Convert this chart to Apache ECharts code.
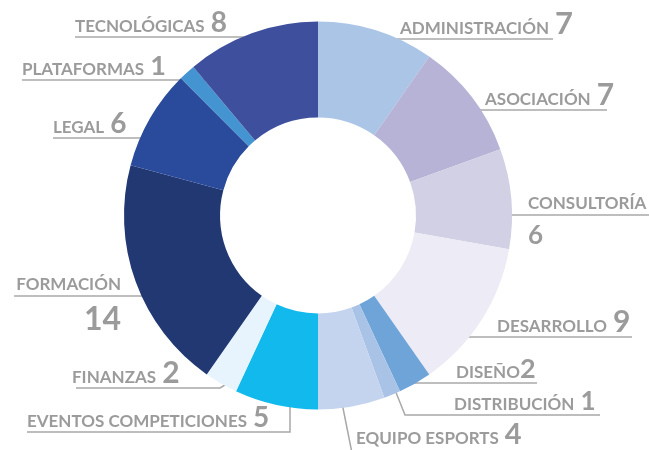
<!DOCTYPE html>
<html><head><meta charset="utf-8">
<script src="https://cdn.jsdelivr.net/npm/echarts@6/dist/echarts.min.js"></script>
<style>html,body{margin:0;padding:0;background:#fff}#c{width:649px;height:450px}</style>
</head><body><div id="c"></div>
<script>
const categories = ['ADMINISTRACIÓN','ASOCIACIÓN','CONSULTORÍA','DESARROLLO','DISEÑO','DISTRIBUCIÓN','EQUIPO ESPORTS','EVENTOS COMPETICIONES','FINANZAS','FORMACIÓN','LEGAL','PLATAFORMAS','TECNOLÓGICAS'];
const values = [7,7,6,9,2,1,4,5,2,14,6,1,8];
const colors = ['#abc5e7','#b6b3d6','#d1d0e4','#ecebf6','#6fa4d9','#a9c3e6','#c4d4ef','#11b9ec','#e8f4fd','#213873','#2a4a9b','#4594d2','#3e4f9d'];
// label placement (annotation layout only)
const guides = [
 {tx:400, ly:39, align:'left', fs:31, pts:[[382,39],[382,39],[553,39]]},
 {tx:485, ly:110, align:'left', fs:30, pts:[[460,110],[460,110],[607,110]]},
 {tx:528, ly:215, align:'left', fs:26, stack:true, pts:[[507,215],[507,215],[649,215]]},
 {tx:497, ly:337, align:'left', fs:30, pts:[[465,337],[465,337],[632,337]]},
 {tx:456, ly:383, align:'left', fs:27, nospace:true, pts:[[405,383],[405,383],[537,383]]},
 {tx:454, ly:415, align:'left', fs:26, pts:[[395,390],[405,415],[600,415]]},
 {tx:356, ly:449, align:'left', fs:29, pts:[[342,403],[352,453],[530,453]]},
 {tx:27, ly:432, align:'left', fs:28, pts:[[290,400],[290,432],[27,432]]},
 {tx:72, ly:388, align:'left', fs:30, pts:[[230,382],[220,388],[76,388]]},
 {tx:121, ly:296, align:'right', fs:32, stack:true, pts:[[197,296],[197,296],[14,296]]},
 {tx:53, ly:138, align:'left', fs:28, pts:[[167,138],[167,138],[53,138]]},
 {tx:22, ly:80, align:'left', fs:27, pts:[[205,80],[205,80],[22,80]]},
 {tx:75, ly:37, align:'left', fs:28, pts:[[258,37],[258,37],[75,37]]}
];
const TXT = '#9b9b9b';
const rich = {
  n: {fontFamily:'Lato', fontWeight:'bold', fontSize:17, lineHeight:17, color:TXT, verticalAlign:'bottom', padding:[0,0,2,0]}
};
guides.forEach((g, i) => {
  rich['v' + i] = {fontFamily:'Lato', fontWeight:'bold', fontSize:g.fs, lineHeight:g.fs, color:TXT, verticalAlign:'bottom', padding:[0,0,0,g.nospace ? 0 : 3]};
  rich['sv' + i] = {fontFamily:'Lato', fontWeight:'bold', fontSize:g.fs, lineHeight:g.fs, color:TXT, padding:[20,0,0,0]};
});
rich.sn = {fontFamily:'Lato', fontWeight:'bold', fontSize:17, lineHeight:17, color:TXT, padding:[0,0,2,0]};
const data = categories.map((c, i) => {
  const g = guides[i];
  const f = g.stack ? '{sn|' + c + '}\n{sv' + i + '|' + values[i] + '}'
                    : '{n|' + c + '}' + (g.nospace ? '' : ' ') + '{v' + i + '|' + values[i] + '}';
  return {name: c, value: values[i], itemStyle: {color: colors[i]}, label: {formatter: f}};
});
const chart = echarts.init(document.getElementById('c'), null, {renderer:'canvas'});
chart.setOption({
  animation: false,
  series: [{
    type: 'pie',
    center: [318, 215.5],
    radius: [98, 194],
    startAngle: 90,
    clockwise: true,
    avoidLabelOverlap: false,
    emphasis: {disabled: true},
    itemStyle: {borderWidth: 0},
    label: {show: true, position: 'outside', color: TXT, fontFamily: 'Lato', rich: rich},
    labelLine: {show: true, length: 10, length2: 10, smooth: false, lineStyle: {color: '#a8a8a8', width: 1.5}},
    labelLayout: function (p) {
      const g = guides[p.dataIndex];
      return {
        x: g.tx,
        y: g.stack ? g.ly - 19 : g.ly,
        align: g.align,
        verticalAlign: g.stack ? 'top' : 'bottom',
        labelLinePoints: g.pts
      };
    },
    data: data
  }]
});
</script></body></html>
